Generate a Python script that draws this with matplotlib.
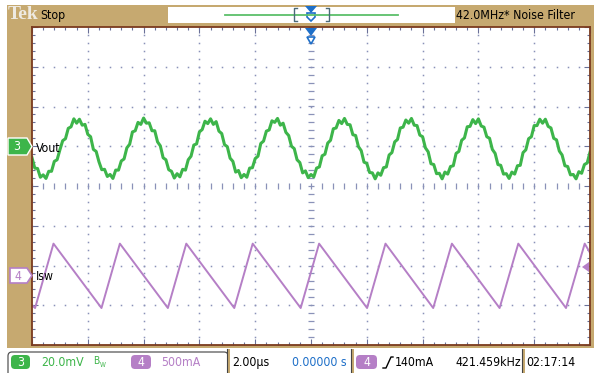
import numpy as np
import matplotlib
matplotlib.use('Agg')
import matplotlib.pyplot as plt
from matplotlib import font_manager as fm
from matplotlib.patches import Rectangle, Polygon, FancyBboxPatch

# scope readout font: condensed DejaVu if installed, else Liberation Sans
_cond = any(f.name == 'DejaVu Sans' and 'condensed' in str(f.stretch)
            and f.style == 'normal' for f in fm.fontManager.ttflist)
if _cond:
    FAM, STRETCH, FS = ['DejaVu Sans'], 'condensed', 8.8
else:
    FAM, STRETCH, FS = ['Liberation Sans', 'DejaVu Sans'], 'normal', 8.4
plt.rcParams['font.family'] = FAM
plt.rcParams['font.stretch'] = STRETCH

# --- waveform data (time in us, amplitude in divisions) ---
# ch3 Vout, sampled every 0.1 us (ripple + noise)
vout_t = np.arange(-10, 10.0001, 0.1)
vout_div = [0.71, 0.45, 0.44, 0.22, 0.28, 0.19, 0.37, 0.37, 0.62, 0.66,
            0.91, 1.14, 1.19, 1.45, 1.49, 1.69, 1.58, 1.68, 1.53, 1.55,
            1.30, 1.24, 0.92, 0.87, 0.61, 0.41, 0.42, 0.24, 0.29, 0.19,
            0.40, 0.40, 0.63, 0.68, 0.96, 1.05, 1.36, 1.39, 1.60, 1.55,
            1.71, 1.58, 1.59, 1.39, 1.39, 1.11, 1.01, 0.71, 0.66, 0.41,
            0.37, 0.20, 0.31, 0.23, 0.42, 0.40, 0.66, 0.75, 1.03, 1.06,
            1.36, 1.42, 1.63, 1.57, 1.69, 1.55, 1.62, 1.38, 1.32, 1.04,
            0.99, 0.70, 0.62, 0.35, 0.39, 0.21, 0.29, 0.22, 0.45, 0.46,
            0.69, 0.75, 1.07, 1.13, 1.38, 1.41, 1.64, 1.60, 1.70, 1.53,
            1.58, 1.35, 1.27, 1.00, 0.94, 0.66, 0.59, 0.33, 0.38, 0.21,
            0.29, 0.23, 0.45, 0.48, 0.76, 0.80, 1.08, 1.15, 1.44, 1.46,
            1.65, 1.57, 1.70, 1.55, 1.54, 1.29, 1.27, 0.99, 0.89, 0.60,
            0.57, 0.34, 0.33, 0.18, 0.33, 0.27, 0.46, 0.48, 0.78, 0.84,
            1.11, 1.17, 1.46, 1.48, 1.66, 1.58, 1.70, 1.53, 1.52, 1.28,
            1.24, 0.96, 0.86, 0.56, 0.54, 0.31, 0.32, 0.18, 0.35, 0.30,
            0.49, 0.51, 0.82, 0.87, 1.15, 1.21, 1.49, 1.50, 1.67, 1.57,
            1.69, 1.51, 1.48, 1.24, 1.20, 0.92, 0.82, 0.54, 0.52, 0.30,
            0.31, 0.19, 0.35, 0.30, 0.51, 0.52, 0.84, 0.91, 1.19, 1.24,
            1.52, 1.52, 1.68, 1.58, 1.68, 1.50, 1.46, 1.20, 1.16, 0.88,
            0.78, 0.51, 0.49, 0.28, 0.29, 0.18, 0.36, 0.32, 0.54, 0.58,
            0.85]

# ch4 Isw, triangle vertices
isw_t = [-10.0, -9.89, -9.23, -7.51, -6.85, -5.13, -4.47, -2.75, -2.09,
         -0.37, 0.29, 2.01, 2.67, 4.38, 5.05, 6.76, 7.43, 9.14, 9.81, 10.0]
isw_div = [-3.00, -3.07, -1.45, -3.07, -1.45, -3.07, -1.45, -3.07, -1.45,
           -3.07, -1.45, -3.07, -1.45, -3.07, -1.45, -3.07, -1.45, -3.07,
           -1.45, -1.68]

TAN = '#C6A970'
BORDER = '#7A3A1E'
TICK = '#6A7098'
DOT = '#8A92B8'
GREEN = '#3DB54A'
PURPLE = '#B57FC6'
BLUE = '#1E6FC8'

W, H = 594, 373
fig = plt.figure(figsize=(W / 100, H / 100), dpi=100, facecolor='white')

# background frame
bg = fig.add_axes([0, 0, 1, 1], zorder=0)
bg.set_xlim(0, W)
bg.set_ylim(H, 0)
bg.axis('off')
bg.add_patch(Rectangle((7, 5), W - 7, 343, color=TAN, lw=0))
bg.add_patch(Rectangle((168, 7), 287, 16, color='white', lw=0))

# graticule
ax = fig.add_axes([32 / W, 1 - 345 / H, 558 / W, 318 / H], zorder=1)
ax.set_xlim(-10, 10)
ax.set_ylim(-4, 4)
ax.set_facecolor('white')
for s in ax.spines.values():
    s.set_color(BORDER)
    s.set_linewidth(1.3)
ax.set_xticks(np.arange(-10, 10.01, 2))
ax.set_xticks(np.arange(-10, 10.01, 0.4), minor=True)
ax.set_yticks(np.arange(-4, 4.01, 1))
ax.set_yticks(np.arange(-4, 4.01, 0.2), minor=True)
ax.tick_params(which='both', direction='in', top=True, right=True,
               labelbottom=False, labelleft=False, color=TICK, width=0.8)
ax.tick_params(which='major', length=4.5)
ax.tick_params(which='minor', length=2.2)

xminor = np.arange(-10, 10.01, 0.4)
yminor = np.arange(-4, 4.01, 0.2)
for gx in range(-8, 9, 2):
    if gx == 0:
        continue
    ax.plot(np.full(len(yminor), gx), yminor, ls='none', marker='s', ms=1.1,
            color=DOT, mew=0)
for gy in range(-3, 4):
    if gy == 0:
        continue
    ax.plot(xminor, np.full(len(xminor), gy), ls='none', marker='s', ms=1.1,
            color=DOT, mew=0)
# centre cross
ax.plot(np.zeros(len(yminor)), yminor, ls='none', marker='_', ms=4.5,
        mew=0.9, color=DOT)
ax.plot(xminor, np.zeros(len(xminor)), ls='none', marker='|', ms=4.5,
        mew=0.9, color=DOT)

# traces
ax.plot(vout_t, vout_div, color=GREEN, lw=2.2)
ax.plot(isw_t, isw_div, color=PURPLE, lw=1.4)

# overlay for labels and markers
ov = fig.add_axes([0, 0, 1, 1], zorder=3)
ov.set_xlim(0, W)
ov.set_ylim(H, 0)
ov.axis('off')
ov.patch.set_alpha(0)

# top status bar
ov.text(8, 14.5, 'Tek', family='Liberation Serif', weight='bold', fontsize=14,
        stretch='normal', color='#EEEAE2', va='center', ha='left')
ov.text(40, 15.5, 'Stop', fontsize=FS, va='center', ha='left', color='black')
ov.text(456, 15.5, '42.0MHz* Noise Filter', fontsize=FS, va='center',
        ha='left', color='black')
ov.plot([225, 398], [14.5, 14.5], color='#5CBF6A', lw=1.3)
ov.plot([297, 294, 294, 297], [8, 8, 21, 21], color='#4A6A78', lw=1)
ov.plot([326, 329, 329, 326], [8, 8, 21, 21], color='#4A6A78', lw=1)
ov.add_patch(Polygon([(305, 6), (317, 6), (311, 13)], color=BLUE, lw=0))
ov.add_patch(Polygon([(307, 13), (315, 13), (315, 17), (311, 21), (307, 17)],
                     fc='white', ec=BLUE, lw=1.2))
ov.add_patch(Polygon([(305, 28), (317, 28), (311, 36)], color=BLUE, lw=0))
ov.add_patch(Polygon([(307, 37), (315, 37), (311, 44)],
                     fc='white', ec=BLUE, lw=1.2))

# channel markers
ov.add_patch(Polygon([(8, 138), (27, 138), (32, 146.5), (27, 155), (8, 155)],
                     fc=GREEN, ec='white', lw=1))
ov.text(17, 147, '3', color='white', fontsize=FS, ha='center', va='center')
ov.text(36, 148, 'Vout', color='black', fontsize=FS, ha='left', va='center')
ov.add_patch(Polygon([(10, 268), (27, 268), (32, 275.5), (27, 283), (10, 283)],
                     fc='white', ec=PURPLE, lw=1.2))
ov.text(18, 276, '4', color=PURPLE, fontsize=FS, ha='center', va='center')
ov.text(36, 276, 'Isw', color='black', fontsize=FS, ha='left', va='center')
ov.add_patch(Polygon([(582, 267), (589, 262), (589, 272)], color=PURPLE, lw=0))

# bottom readout bar
ov.add_patch(FancyBboxPatch((8, 352), 220, 30,
                            boxstyle='round,pad=0,rounding_size=4',
                            fc='white', ec='#555555', lw=0.9))
for dx in (227, 351, 522):
    ov.add_patch(Rectangle((dx, 349), 3, 26, color=TAN, lw=0))
    ov.plot([dx, dx], [349, 373], color='#444444', lw=0.8)
ov.add_patch(FancyBboxPatch((11, 355), 19, 14,
                            boxstyle='round,pad=0,rounding_size=4',
                            fc=GREEN, ec='none'))
ov.text(20.5, 362.5, '3', color='white', fontsize=FS, ha='center', va='center')
ov.text(41, 362.5, '20.0mV', color=GREEN, fontsize=FS, ha='left', va='center')
ov.text(93, 361.5, 'B', color=GREEN, fontsize=FS - 1.5, ha='left', va='center')
ov.text(99.5, 365, 'W', color=GREEN, fontsize=FS - 4, ha='left', va='center')
ov.add_patch(FancyBboxPatch((131, 355), 20, 14,
                            boxstyle='round,pad=0,rounding_size=4',
                            fc=PURPLE, ec='none'))
ov.text(141, 362.5, '4', color='white', fontsize=FS, ha='center', va='center')
ov.text(161, 362.5, '500mA', color=PURPLE, fontsize=FS, ha='left', va='center')
ov.text(232, 362.5, '2.00µs', color='black', fontsize=FS, ha='left', va='center')
ov.text(347, 362.5, '0.00000 s', color=BLUE, fontsize=FS, ha='right', va='center')
ov.add_patch(FancyBboxPatch((356, 355), 21, 14,
                            boxstyle='round,pad=0,rounding_size=4',
                            fc=PURPLE, ec='none'))
ov.text(366.5, 362.5, '4', color='white', fontsize=FS, ha='center', va='center')
ov.plot([383, 386, 391, 393], [368, 368, 357, 357], color='black', lw=1)
ov.text(395, 362.5, '140mA', color='black', fontsize=FS, ha='left', va='center')
ov.text(521, 362.5, '421.459kHz', color='black', fontsize=FS, ha='right', va='center')
ov.text(526, 362.5, '02:17:14', color='black', fontsize=FS, ha='left', va='center')

fig.savefig('out.png', dpi=100, facecolor='white')
